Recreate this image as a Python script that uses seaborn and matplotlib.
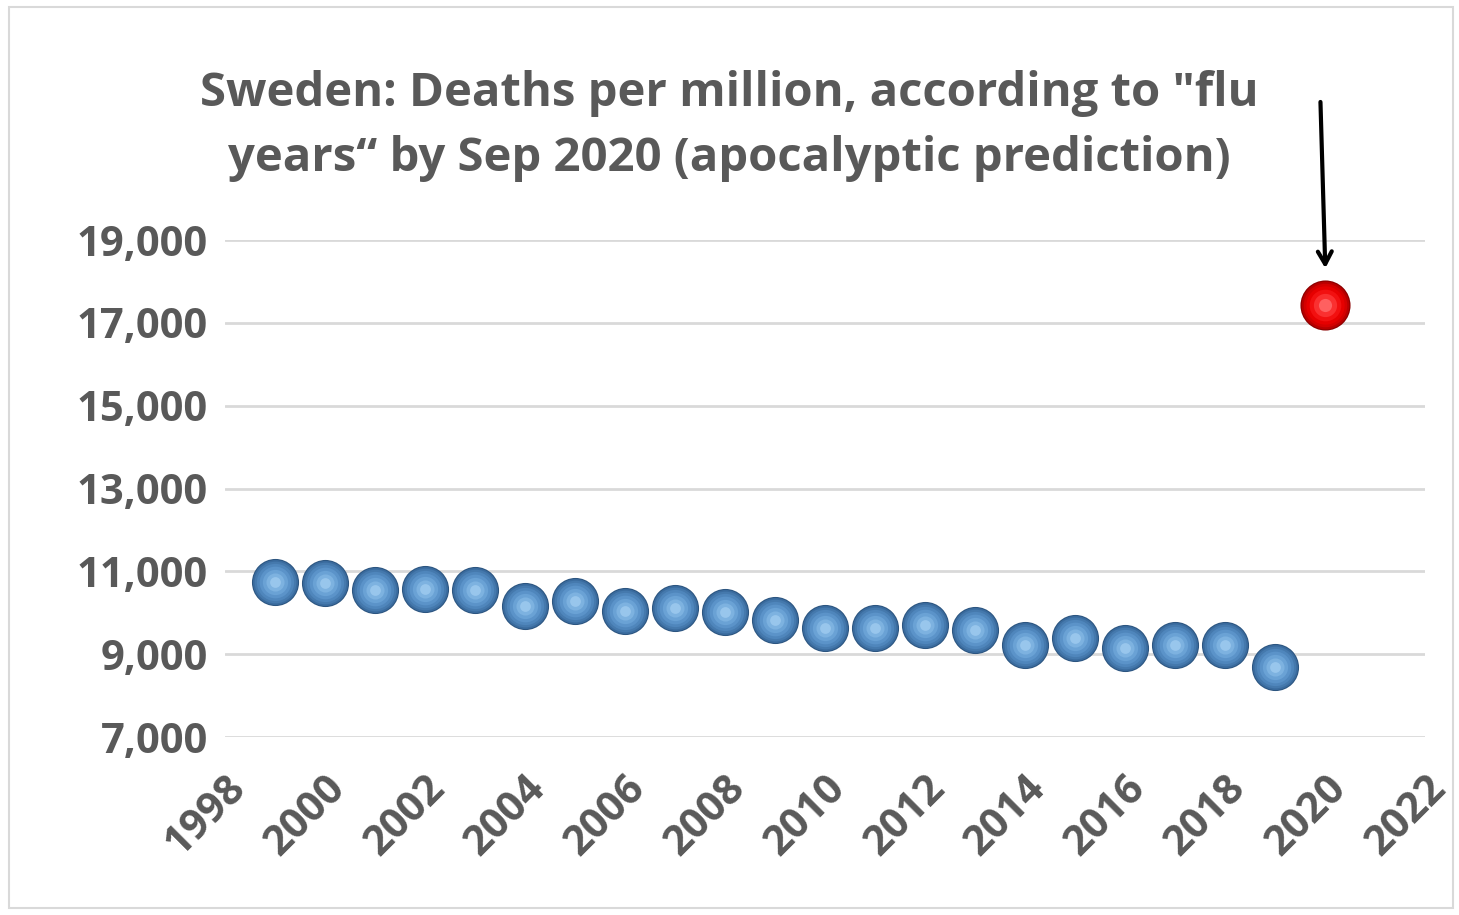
import matplotlib
matplotlib.use("Agg")
import matplotlib.pyplot as plt
import pandas as pd
import seaborn as sns

# deaths per million, Sweden, by flu year
years = [1999, 2000, 2001, 2002, 2003, 2004, 2005, 2006, 2007, 2008, 2009,
         2010, 2011, 2012, 2013, 2014, 2015, 2016, 2017, 2018, 2019]
deaths = [10740, 10720, 10550, 10575, 10550, 10160, 10285, 10040, 10115, 10020, 9825,
          9630, 9630, 9705, 9585, 9220, 9390, 9150, 9220, 9220, 8690]
pred_year = [2020]
pred_deaths = [17430]

title = 'Sweden: Deaths per million, according to "flu\nyears\u201c by Sep 2020 (apocalyptic prediction)'

datos = pd.DataFrame({"Year": years, "Deaths": deaths})
pred = pd.DataFrame({"Year": pred_year, "Deaths": pred_deaths})

sns.set_style("white")
plt.rcParams["font.family"] = ["Open Sans", "DejaVu Sans"]
gris = "#595959"

fig = plt.figure(figsize=(14.59, 9.15), dpi=100)
ax = fig.add_axes([0.154, 0.1945, 0.823, 0.5432])

# fake 3d spheres with concentric layers
azules = ["#2c5580", "#3a6b9e", "#4579ad", "#4f86bc", "#5b93c9", "#6aa2d5", "#7db2e0", "#98c6ec"]
tams = [1150, 1050, 900, 720, 520, 330, 170, 60]
for c, s in zip(azules, tams):
    sns.scatterplot(data=datos, x="Year", y="Deaths", s=s, color=c, linewidth=0, ax=ax, zorder=3)

rojos = ["#8c0000", "#b80000", "#d40000", "#e60000", "#f21010", "#fa3030", "#ff6060"]
tams_r = [1300, 1180, 980, 760, 520, 280, 90]
for c, s in zip(rojos, tams_r):
    sns.scatterplot(data=pred, x="Year", y="Deaths", s=s, color=c, linewidth=0, ax=ax, zorder=3)

ax.set_xlim(1998, 2022)
ax.set_ylim(7000, 19000)
ax.set_xticks(range(1998, 2023, 2))
ax.set_yticks(range(7000, 19001, 2000))
ax.set_yticklabels([f"{v:,}" for v in range(7000, 19001, 2000)])
ax.set_xlabel("")
ax.set_ylabel("")
ax.yaxis.grid(True, color="#d9d9d9", linewidth=2)
ax.xaxis.grid(False)
sns.despine(ax=ax, left=True, bottom=True)
ax.tick_params(axis="y", length=0, labelsize=30, labelcolor=gris, pad=12)
ax.tick_params(axis="x", length=0, labelsize=30, labelcolor=gris, pad=22)
for lab in ax.get_yticklabels():
    lab.set_fontweight("bold")
for lab in ax.get_xticklabels():
    lab.set_fontweight("bold")
    lab.set_rotation(45)
    lab.set_ha("right")
    lab.set_rotation_mode("anchor")

fig.text(0.5, 0.862, title, ha="center", va="center", fontsize=34,
         fontweight="bold", color=gris, linespacing=1.5)

ax.annotate("", xy=(2020, 18250), xytext=(2019.9, 22400), annotation_clip=False,
            arrowprops=dict(arrowstyle="->,head_length=0.9,head_width=0.5", color="black", lw=3))

# chart border
fig.patches.append(plt.Rectangle((0.006, 0.008), 0.99, 0.984, transform=fig.transFigure,
                                 fill=False, edgecolor="#d9d9d9", linewidth=1.5))

fig.savefig("out.png", dpi=100)
